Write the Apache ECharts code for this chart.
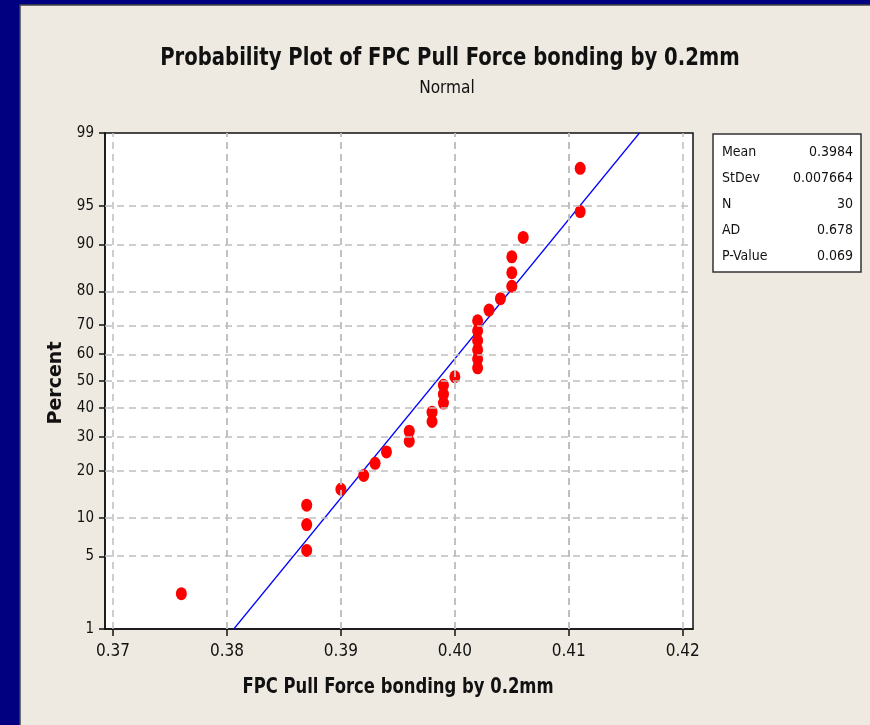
<!DOCTYPE html>
<html>
<head>
<meta charset="utf-8">
<script src="https://cdn.jsdelivr.net/npm/echarts@6/dist/echarts.min.js"></script>
<style>
html,body{margin:0;padding:0;background:#000080;}
#main{position:absolute;left:0;top:0;width:870px;height:725px;}
</style>
</head>
<body>
<div id="main"></div>
<script>
// ---- data ----
const forceValues = [0.376, 0.387, 0.387, 0.387, 0.390, 0.392, 0.393, 0.394, 0.396, 0.396,
                     0.398, 0.398, 0.399, 0.399, 0.399, 0.400, 0.402, 0.402, 0.402, 0.402,
                     0.402, 0.402, 0.403, 0.404, 0.405, 0.405, 0.405, 0.406, 0.411, 0.411];
const percentValues = [2.3, 5.6, 8.9, 12.2, 15.5, 18.8, 22.0, 25.3, 28.6, 31.9,
                       35.2, 38.5, 41.8, 45.1, 48.4, 51.6, 54.9, 58.2, 61.5, 64.8,
                       68.1, 71.4, 74.7, 78.0, 81.3, 84.5, 87.8, 91.1, 94.4, 97.7];
const fitForce = [0.3806, 0.4162];
const fitPercent = [1, 99];
const percentTicks = [1, 5, 10, 20, 30, 40, 50, 60, 70, 80, 90, 95, 99];
const forceTicks = [0.37, 0.38, 0.39, 0.40, 0.41, 0.42];
const forceGrid = [0.37, 0.375, 0.38, 0.385, 0.39, 0.395, 0.40, 0.405, 0.41, 0.415, 0.42];
const statLabels = ['Mean', 'StDev', 'N', 'AD', 'P-Value'];
const statValues = ['0.3984', '0.007664', '30', '0.678', '0.069'];
const titleText = 'Probability Plot of FPC Pull Force bonding by 0.2mm';
const subtitleText = 'Normal';
const xAxisTitle = 'FPC Pull Force bonding by 0.2mm';
const yAxisTitle = 'Percent';

// inverse standard normal CDF (Acklam) - probability scale transform
function probit(p) {
  const a = [-3.969683028665376e+01, 2.209460984245205e+02, -2.759285104469687e+02, 1.383577518672690e+02, -3.066479806614716e+01, 2.506628277459239e+00];
  const b = [-5.447609879822406e+01, 1.615858368580409e+02, -1.556989798598866e+02, 6.680131188771972e+01, -1.328068155288572e+01];
  const c = [-7.784894002430293e-03, -3.223964580411365e-01, -2.400758277161838e+00, -2.549732539343734e+00, 4.374664141464968e+00, 2.938163982698783e+00];
  const d = [7.784695709041462e-03, 3.224671290700398e-01, 2.445134137142996e+00, 3.754408661907416e+00];
  const pl = 0.02425, ph = 1 - pl;
  let q, r;
  if (p < pl) {
    q = Math.sqrt(-2 * Math.log(p));
    return (((((c[0]*q+c[1])*q+c[2])*q+c[3])*q+c[4])*q+c[5]) / ((((d[0]*q+d[1])*q+d[2])*q+d[3])*q+1);
  } else if (p <= ph) {
    q = p - 0.5; r = q * q;
    return (((((a[0]*r+a[1])*r+a[2])*r+a[3])*r+a[4])*r+a[5])*q / (((((b[0]*r+b[1])*r+b[2])*r+b[3])*r+b[4])*r+1);
  } else {
    q = Math.sqrt(-2 * Math.log(1 - p));
    return -(((((c[0]*q+c[1])*q+c[2])*q+c[3])*q+c[4])*q+c[5]) / ((((d[0]*q+d[1])*q+d[2])*q+d[3])*q+1);
  }
}
const zOf = pct => probit(pct / 100);
const zTicks = percentTicks.map(zOf);
function pctLabel(z) {
  let best = 0, bd = 1e9;
  zTicks.forEach((t, i) => { const dd = Math.abs(t - z); if (dd < bd) { bd = dd; best = i; } });
  return String(percentTicks[best]);
}

const NARROW = '"Liberation Sans Narrow", "DejaVu Sans Condensed", "Noto Sans", sans-serif';
const WIDE = '"DejaVu Sans", Verdana, sans-serif';

const chart = echarts.init(document.getElementById('main'));
const gridL = 105, gridT = 133, gridW = 588, gridH = 496;

const statChildren = [{
  type: 'rect', shape: { x: 713, y: 134, width: 148, height: 138 },
  style: { fill: '#ffffff', stroke: '#333333', lineWidth: 1.5 }
}];
statLabels.forEach((lab, i) => {
  const y = 152 + i * 26;
  statChildren.push({ type: 'text', style: { x: 722, y: y, text: lab, fill: '#111', font: '14px ' + NARROW, textVerticalAlign: 'middle', textAlign: 'left' } });
  statChildren.push({ type: 'text', style: { x: 853, y: y, text: statValues[i], fill: '#111', font: '14px ' + NARROW, textVerticalAlign: 'middle', textAlign: 'right' } });
});

chart.setOption({
  animation: false,
  backgroundColor: '#000080',
  graphic: [
    { type: 'rect', z: -100, shape: { x: 20, y: 5, width: 860, height: 730 }, style: { fill: '#EEEAE1', stroke: '#444', lineWidth: 1.5 } },
    { type: 'text', z: 10, x: 450, y: 58, scaleX: 0.873, style: { x: 0, y: 0, text: titleText, fill: '#111', font: 'bold 25px ' + NARROW, textAlign: 'center', textVerticalAlign: 'middle' } },
    { type: 'text', z: 10, x: 447, y: 88, scaleX: 0.95, style: { x: 0, y: 0, text: subtitleText, fill: '#111', font: '18px ' + NARROW, textAlign: 'center', textVerticalAlign: 'middle' } },
    { type: 'text', z: 10, x: 398, y: 688, scaleX: 0.87, style: { x: 0, y: 0, text: xAxisTitle, fill: '#111', font: 'bold 21px ' + NARROW, textAlign: 'center', textVerticalAlign: 'middle' } },
    { type: 'text', z: 10, x: 56, y: 383, rotation: Math.PI / 2, style: { x: 0, y: 0, text: yAxisTitle, fill: '#111', font: 'bold 19px ' + WIDE, textAlign: 'center', textVerticalAlign: 'middle' } },
    { type: 'group', z: 10, children: statChildren }
  ],
  grid: { left: gridL, top: gridT, width: gridW, height: gridH, show: true, backgroundColor: '#ffffff', borderColor: '#111', borderWidth: 1.5, containLabel: false },
  xAxis: {
    type: 'value', min: 0.3693, max: 0.4209,
    axisLine: { show: true, onZero: false, lineStyle: { color: '#111', width: 1.5 } },
    axisTick: { show: true, customValues: forceTicks, length: 7, lineStyle: { color: '#111', width: 1.5 } },
    axisLabel: { customValues: forceTicks, formatter: v => v.toFixed(2), color: '#111', fontSize: 17, fontFamily: NARROW, margin: 14 },
    splitLine: { show: false }
  },
  yAxis: {
    type: 'value', min: zOf(1), max: zOf(99),
    axisLine: { show: true, onZero: false, lineStyle: { color: '#111', width: 1.5 } },
    axisTick: { show: true, customValues: zTicks, length: 6, lineStyle: { color: '#111', width: 1.5 } },
    axisLabel: { customValues: zTicks, formatter: v => pctLabel(v), color: '#111', fontSize: 15, fontFamily: NARROW, margin: 11 },
    splitLine: { show: false }
  },
  series: [
    {
      type: 'scatter', data: [], silent: true, z: 1,
      markLine: {
        silent: true, symbol: ['none', 'none'], label: { show: false },
        lineStyle: { color: '#BFBFBF', type: [7, 5], width: 1.5 },
        data: forceGrid.map(v => ({ xAxis: v })).concat(percentTicks.slice(1, -1).map(p => ({ yAxis: zOf(p) })))
      }
    },
    {
      type: 'line', data: fitForce.map((v, i) => [v, zOf(fitPercent[i])]), symbol: 'none', z: 3,
      lineStyle: { color: '#0000FF', width: 1.2 }
    },
    {
      type: 'scatter', z: 4, symbol: 'circle', symbolSize: [11, 13],
      itemStyle: { color: '#FF0000', opacity: 1 },
      data: forceValues.map((v, i) => [v, zOf(percentValues[i])])
    }
  ]
});
</script>
</body>
</html>
